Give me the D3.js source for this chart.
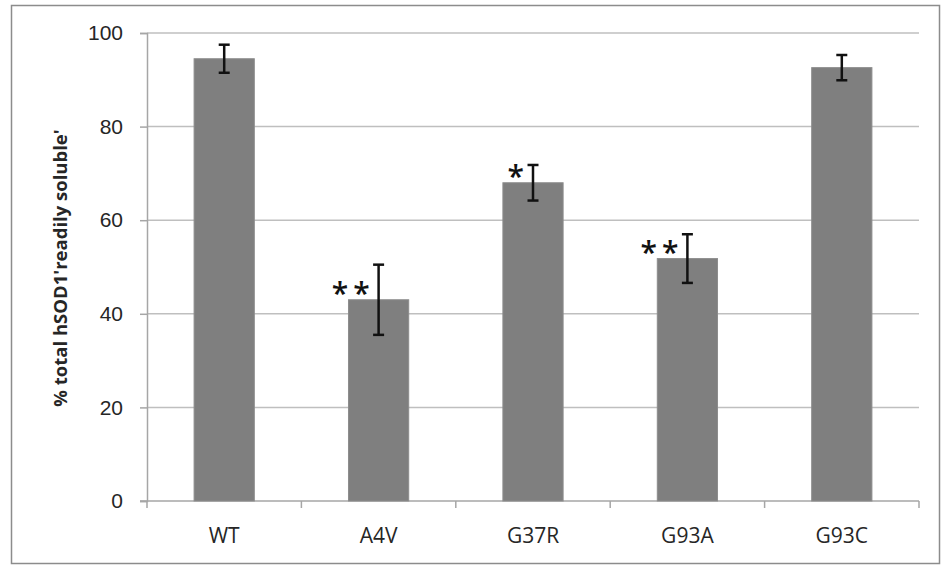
<!DOCTYPE html>
<html>
<head>
<meta charset="utf-8">
<script src="https://cdn.jsdelivr.net/npm/d3@7"></script>
<style>
  body { margin: 0; background: #fff; }
  svg { display: block; font-family: "Open Sans", sans-serif; }
</style>
</head>
<body>
<svg id="chart"></svg>
<script>
const categories = ['WT', 'A4V', 'G37R', 'G93A', 'G93C'];
const values = [94.5, 43.0, 68.0, 51.8, 92.6];
const errors = [3.0, 7.5, 3.8, 5.2, 2.7];
const stars = ['', '**', '*', '**', ''];
const yTicks = [0, 20, 40, 60, 80, 100];
const yLabel = "% total hSOD1'readily soluble'";

const width = 943, height = 566;
const margin = { top: 33, right: 24, bottom: 65, left: 147 };

const svg = d3.select('#chart')
  .attr('width', width)
  .attr('height', height);

// Outer frame
svg.append('rect')
  .attr('x', 11.5).attr('y', 5.5)
  .attr('width', 928).attr('height', 558)
  .attr('fill', 'none')
  .attr('stroke', '#8c8c8c')
  .attr('stroke-width', 1.5);

const x = d3.scaleBand()
  .domain(categories)
  .range([margin.left, width - margin.right])
  .paddingInner(0.61)
  .paddingOuter(0.305);

const y = d3.scaleLinear()
  .domain([0, 100])
  .range([height - margin.bottom, margin.top]);

// Gridlines
svg.append('g')
  .selectAll('line')
  .data(yTicks.filter(d => d > 0))
  .enter()
  .append('line')
  .attr('x1', margin.left)
  .attr('x2', width - margin.right)
  .attr('y1', d => y(d))
  .attr('y2', d => y(d))
  .attr('stroke', '#bfbfbf')
  .attr('stroke-width', 1.5);

// Y axis
const yAxis = svg.append('g')
  .attr('transform', `translate(${margin.left},0)`)
  .call(d3.axisLeft(y).tickValues(yTicks).tickSize(7).tickPadding(17));
yAxis.select('.domain').attr('stroke', '#a6a6a6').attr('stroke-width', 1.5);
yAxis.selectAll('.tick line').attr('stroke', '#a6a6a6').attr('stroke-width', 1.5);
yAxis.selectAll('.tick text')
  .attr('font-size', 21)
  .attr('fill', '#262626');

// X axis with ticks at category boundaries
const xBase = svg.append('g');
xBase.append('line')
  .attr('x1', margin.left - 7)
  .attr('x2', width - margin.right)
  .attr('y1', y(0)).attr('y2', y(0))
  .attr('stroke', '#a6a6a6')
  .attr('stroke-width', 1.5);
const step = x.step();
xBase.selectAll('.xtick')
  .data(d3.range(categories.length + 1))
  .enter()
  .append('line')
  .attr('class', 'xtick')
  .attr('x1', i => margin.left + i * step)
  .attr('x2', i => margin.left + i * step)
  .attr('y1', y(0))
  .attr('y2', y(0) + 7)
  .attr('stroke', '#a6a6a6')
  .attr('stroke-width', 1.5);
xBase.selectAll('.xlabel')
  .data(categories)
  .enter()
  .append('text')
  .attr('class', 'xlabel')
  .attr('x', d => x(d) + x.bandwidth() / 2)
  .attr('y', y(0) + 42)
  .attr('text-anchor', 'middle')
  .attr('font-size', 21)
  .attr('fill', '#262626')
  .text(d => d);

// Bars
svg.append('g')
  .selectAll('rect')
  .data(categories)
  .enter()
  .append('rect')
  .attr('x', d => x(d))
  .attr('width', x.bandwidth())
  .attr('y', (d, i) => y(values[i]))
  .attr('height', (d, i) => y(0) - y(values[i]))
  .attr('fill', '#7f7f7f')
  .attr('stroke', '#8d8d8d')
  .attr('stroke-width', 1);

// Error bars
const err = svg.append('g')
  .attr('stroke', '#111')
  .attr('stroke-width', 2.5);
categories.forEach((c, i) => {
  const cx = x(c) + x.bandwidth() / 2;
  const top = y(values[i] + errors[i]);
  const bot = y(values[i] - errors[i]);
  err.append('line').attr('x1', cx).attr('x2', cx).attr('y1', top).attr('y2', bot);
  err.append('line').attr('x1', cx - 5.5).attr('x2', cx + 5.5).attr('y1', top).attr('y2', top);
  err.append('line').attr('x1', cx - 5.5).attr('x2', cx + 5.5).attr('y1', bot).attr('y2', bot);
});

// Significance stars
svg.append('g')
  .selectAll('text')
  .data(categories)
  .enter()
  .append('text')
  .attr('x', d => x(d) + x.bandwidth() / 2 - 4)
  .attr('y', (d, i) => y(values[i]) + 4)
  .attr('text-anchor', 'end')
  .attr('font-size', 30)
  .attr('font-weight', 600)
  .attr('letter-spacing', 5)
  .attr('fill', '#111')
  .text((d, i) => stars[i]);

// Y axis title
svg.append('text')
  .attr('transform', `translate(67,${(y(0) + y(100)) / 2 + 1}) rotate(-90)`)
  .attr('text-anchor', 'middle')
  .attr('font-size', 18.5)
  .attr('font-weight', 'bold')
  .attr('fill', '#262626')
  .text(yLabel);
</script>
</body>
</html>
